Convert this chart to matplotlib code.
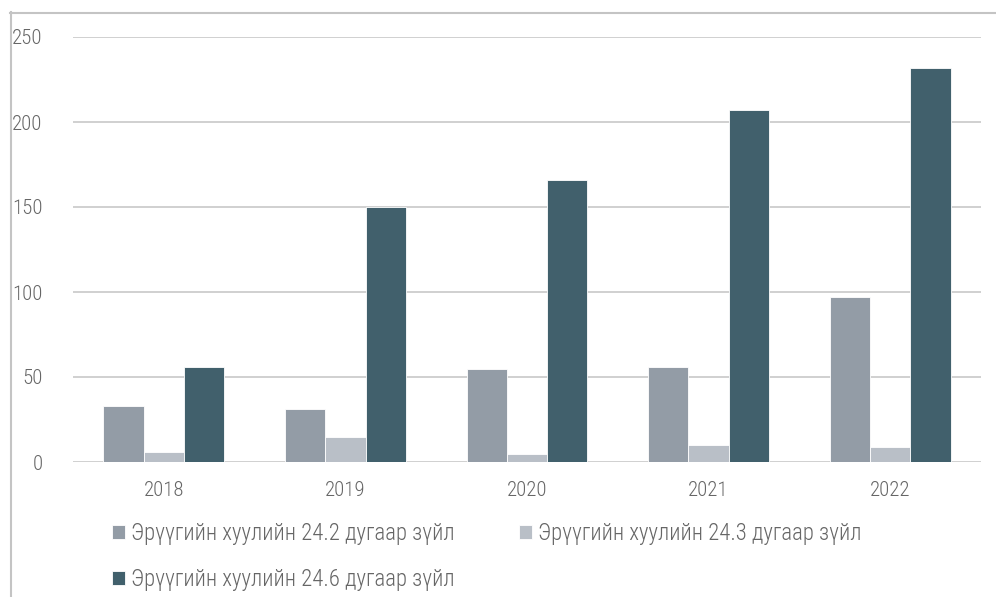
import numpy as np
import matplotlib
matplotlib.use("Agg")
import matplotlib.pyplot as plt
from matplotlib.lines import Line2D

# 数据
years = ["2018", "2019", "2020", "2021", "2022"]
series_names = [
    "Эрүүгийн хуулийн 24.2 дугаар зүйл",
    "Эрүүгийн хуулийн 24.3 дугаар зүйл",
    "Эрүүгийн хуулийн 24.6 дугаар зүйл",
]
art_24_2 = [33, 31, 55, 56, 97]
art_24_3 = [6, 15, 5, 10, 9]
art_24_6 = [56, 150, 166, 207, 232]
y_ticks = [0, 50, 100, 150, 200, 250]

colors = ["#939ca6", "#b9bfc7", "#41606c"]
text_color = "#666666"
grid_color = "#c4c4c4"

# 窄体字体
plt.rcParams['font.family'] = ['Roboto Condensed', 'DejaVu Sans']
plt.rcParams['font.weight'] = 'light'

W, H = 996, 597
fig = plt.figure(figsize=(W / 100, H / 100), dpi=100)
ax = fig.add_axes([73 / W, 1 - 462 / H, (981 - 73) / W, (462 - 37) / H])

x = np.arange(len(years))
bw = 0.222
bars = []
for i, (vals, c) in enumerate(zip([art_24_2, art_24_3, art_24_6], colors)):
    b = ax.bar(x + (i - 1) * bw, vals, width=bw, color=c,
               edgecolor="white", linewidth=0.6, zorder=3)
    bars.append(b)

ax.set_xlim(-0.5, len(years) - 0.5)
ax.set_ylim(0, 250)
ax.set_yticks(y_ticks)
ax.set_xticks(x)
ax.set_xticklabels(years)
ax.tick_params(axis='both', length=0, labelsize=15, colors=text_color)
ax.tick_params(axis='y', pad=22)
ax.tick_params(axis='x', pad=14)
ax.grid(axis='y', color=grid_color, linewidth=1.1, zorder=0)
for s in ax.spines.values():
    s.set_visible(False)

# 图例：第一行两项，第二行一项
handles = [bars[0], bars[2], bars[1]]
labels = [series_names[0], series_names[2], series_names[1]]
fig.legend(handles, labels, ncol=2, frameon=False, fontsize=16.4,
           labelcolor=text_color, handlelength=0.58, handleheight=0.58,
           handletextpad=0.27, columnspacing=2.8, labelspacing=1.0,
           borderpad=0, borderaxespad=0,
           loc="upper left", bbox_to_anchor=(112 / W, 1 - 522 / H))

# 外框（左侧和顶部）
fig.add_artist(Line2D([10.5 / W, 10.5 / W], [0, 1 - 12 / H], color=grid_color,
                      linewidth=1.5, transform=fig.transFigure))
fig.add_artist(Line2D([10 / W, 1], [1 - 12.5 / H, 1 - 12.5 / H], color=grid_color,
                      linewidth=1.5, transform=fig.transFigure))

fig.savefig("out.png", dpi=100)
